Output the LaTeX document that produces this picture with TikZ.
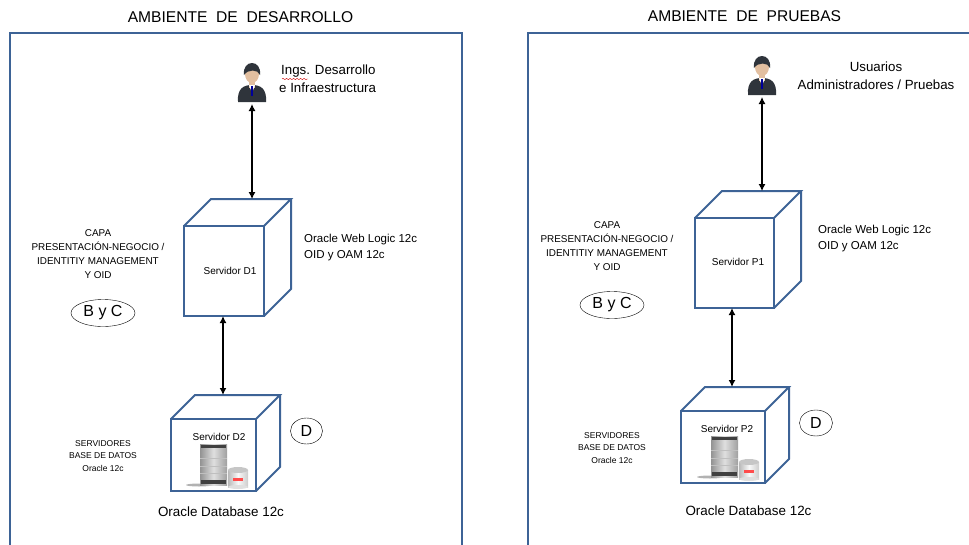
\documentclass[tikz,border=0pt]{standalone}
\usepackage{fontspec}
\setmainfont{Liberation Sans}
\usetikzlibrary{shapes.geometric,arrows.meta,decorations.pathmorphing}
\definecolor{panelblue}{HTML}{3D6396}
\definecolor{suitdark}{HTML}{2F343B}
\definecolor{skintone}{HTML}{E2BFA0}
\tikzset{
  x=1pt,y=-1pt,
  panel/.style={draw=panelblue,line width=2pt},
  cubeedge/.style={draw=panelblue,line width=2pt,line join=miter},
  userlbl/.style={inner sep=0pt,align=center,font=\fontsize{13.3}{18}\selectfont},
  softlbl/.style={inner sep=0pt,anchor=west,font=\fontsize{11.5}{14}\selectfont},
  dblbl/.style={inner sep=0pt,font=\fontsize{13.4}{16}\selectfont},
  srvlbl/.style={inner sep=0pt,font=\fontsize{10}{12}\selectfont},
  capalbl/.style={inner sep=0pt,align=center,font=\fontsize{9.9}{14}\selectfont},
  bdlbl/.style={inner sep=0pt,align=center,font=\fontsize{8.5}{12.5}\selectfont},
  titlelbl/.style={inner sep=0pt,font=\fontsize{15.6}{18}\selectfont},
  oval/.style={draw,ellipse,thin,inner sep=0pt,font=\fontsize{16}{18}\selectfont},
  thinlink/.style={{Latex[length=7pt,width=7pt]}-{Latex[length=7pt,width=7pt]},line width=1.1pt},
  thicklink/.style={{Latex[length=7pt,width=7pt]}-{Latex[length=7pt,width=7pt]},line width=2.3pt}
}
% box with its front face at (x,y), front size w by h, depth d
\newcommand{\cubebox}[5]{
  \draw[cubeedge] (#1,#2) rectangle (#1+#3,#2+#4);
  \draw[cubeedge] (#1,#2) -- (#1+#5,#2-#5) -- (#1+#3+#5,#2-#5) -- (#1+#3,#2);
  \draw[cubeedge] (#1+#3+#5,#2-#5) -- (#1+#3+#5,#2+#4-#5) -- (#1+#3,#2+#4);
}
\newcommand{\personicon}[3]{
  \coordinate (#1) at (#2,#3+24);
  \fill[suitdark] (#2-14,#3+22) .. controls (#2-15,#3+8) and (#2-8,#3+5) .. (#2,#3+5)
    .. controls (#2+8,#3+5) and (#2+15,#3+8) .. (#2+14,#3+22) -- cycle;
  \fill[skintone] (#2-3,#3) rectangle (#2+3,#3+8);
  \fill[skintone] (#2,#3-6) ellipse (7 and 9);
  \fill[suitdark] (#2-8,#3-5) .. controls (#2-10,#3-21) and (#2+10,#3-21) .. (#2+8,#3-5)
    .. controls (#2+6,#3-11) and (#2-4,#3-11) .. (#2-8,#3-5) -- cycle;
  \fill[white] (#2-3,#3+5) -- (#2+3,#3+5) -- (#2,#3+13) -- cycle;
  \fill[blue!60!black] (#2-1,#3+6) -- (#2+1,#3+6) -- (#2+1,#3+16) -- (#2-1,#3+16) -- cycle;
}
\newcommand{\dbicon}[2]{
  \fill[gray!60] (#1-1,#2+20) ellipse (13 and 1.5);
  \shade[left color=gray!85,right color=gray!75,middle color=gray!25]
    (#1,#2-21) rectangle (#1+27,#2+20);
  \fill[black!75] (#1+1,#2-20) rectangle (#1+26,#2-17);
  \fill[black!75] (#1+1,#2+15) rectangle (#1+26,#2+19);
  \foreach \yy in {-7,1,8} \draw[gray!50,thin] (#1,#2+\yy) -- (#1+27,#2+\yy);
  \shade[left color=gray!55,right color=gray!40,middle color=gray!5]
    (#1+28,#2+5) rectangle (#1+48,#2+22);
  \fill[gray!45] (#1+38,#2+5) ellipse (10 and 3);
  \fill[gray!25] (#1+38,#2+22) ellipse (10 and 2);
  \fill[red!70!white] (#1+33,#2+13) rectangle (#1+43,#2+15.5);
}
\begin{document}
\begin{tikzpicture}
  \useasboundingbox (0,0) rectangle (969,544);
  % desarrollo
  \node[titlelbl] (title1) at (240.5,17) {AMBIENTE\ \ DE\ \ DESARROLLO};
  \draw[panel] (10,546) -- (10,33) -- (462,33) -- (462,546);
  \personicon{user1}{252}{80}
  \node[userlbl,anchor=west] (users1) at (281,71) {Ings. Desarrollo};
  \node[userlbl,anchor=west] (users1b) at (279,88) {e Infraestructura};
  \draw[red!80!black,thin,decorate,decoration={snake,amplitude=.7pt,segment length=3.5pt}] (282,79) -- (308,79);
  \cubebox{184}{226}{80}{90}{27}
  \coordinate (d1up) at (252,199);
  \coordinate (d1low) at (223,316);
  \node[srvlbl] (srv1) at (230,271) {Servidor D1};
  \node[softlbl] (soft1) at (304,239.5) {Oracle Web Logic 12c};
  \node[softlbl] (soft1b) at (304,255.5) {OID y OAM 12c};
  \node[capalbl] (capa1) at (98,254) {CAPA\\PRESENTACIÓN-NEGOCIO /\\IDENTITIY MANAGEMENT\\Y OID};
  \node[oval,minimum width=64,minimum height=27] (byc1) at (103,313) {B y C};
  \cubebox{171}{419}{85}{72}{24}
  \coordinate (d2up) at (223,395);
  \node[srvlbl] (srv2) at (219,437) {Servidor D2};
  \dbicon{200}{465}
  \node[oval,minimum width=32,minimum height=26] (dd1) at (306.5,431) {D};
  \node[bdlbl] (bd1) at (103,456) {SERVIDORES\\BASE DE DATOS\\Oracle 12c};
  \node[dblbl] (ora1) at (221,512) {Oracle Database 12c};
  \draw[thinlink] (user1) -- (d1up);
  \draw[thicklink] (d1low) -- (d2up);
  % pruebas
  \node[titlelbl] (title2) at (744.5,16) {AMBIENTE\ \ DE\ \ PRUEBAS};
  \draw[panel] (528,546) -- (528,33) -- (971,33);
  \personicon{user2}{762}{73}
  \node[userlbl] (users2) at (876,76) {Usuarios\\Administradores / Pruebas};
  \cubebox{695}{218}{79}{90}{27}
  \coordinate (p1up) at (762,191);
  \coordinate (p1low) at (732,308);
  \node[srvlbl] (srv3) at (738,262) {Servidor P1};
  \node[softlbl] (soft2) at (818,230.5) {Oracle Web Logic 12c};
  \node[softlbl] (soft2b) at (818,246.5) {OID y OAM 12c};
  \node[capalbl] (capa2) at (607,246) {CAPA\\PRESENTACIÓN-NEGOCIO /\\IDENTITIY MANAGEMENT\\Y OID};
  \node[oval,minimum width=64,minimum height=27] (byc2) at (612,305) {B y C};
  \cubebox{681}{411}{84}{72}{24}
  \coordinate (p2up) at (732,387);
  \node[srvlbl] (srv4) at (727,429) {Servidor P2};
  \dbicon{711}{457}
  \node[oval,minimum width=33,minimum height=26] (dd2) at (816,423) {D};
  \node[bdlbl] (bd2) at (612,448) {SERVIDORES\\BASE DE DATOS\\Oracle 12c};
  \node[dblbl] (ora2) at (748.5,511) {Oracle Database 12c};
  \draw[thinlink] (user2) -- (p1up);
  \draw[thicklink] (p1low) -- (p2up);
\end{tikzpicture}
\end{document}
